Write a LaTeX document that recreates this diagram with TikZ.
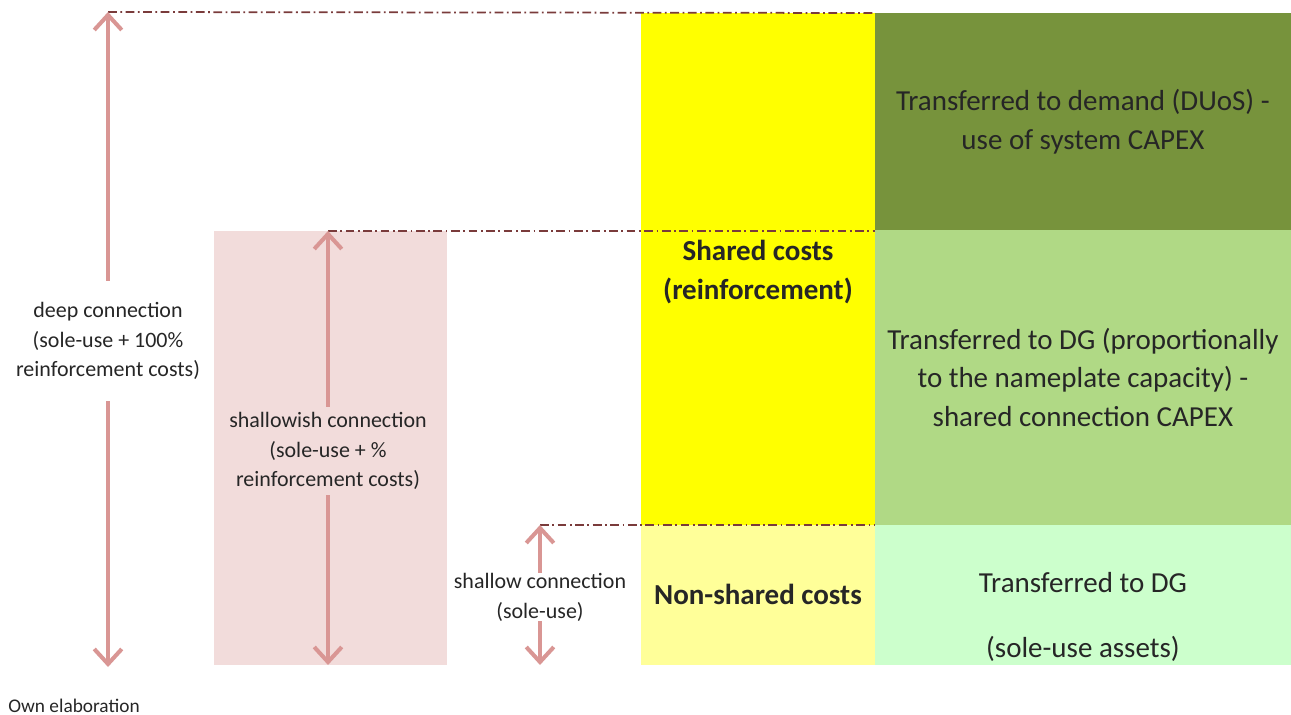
\documentclass[tikz,border=0pt]{standalone}
\usepackage{fontspec}
\setmainfont{Carlito}
\usetikzlibrary{positioning,arrows.meta}

\definecolor{arrowred}{HTML}{D99694}
\definecolor{levelred}{HTML}{7A3B3B}
\definecolor{pinkbg}{HTML}{F2DCDB}
\definecolor{sharedyellow}{HTML}{FFFF00}
\definecolor{paleyellow}{HTML}{FFFF99}
\definecolor{darkgreen}{HTML}{77933C}
\definecolor{midgreen}{HTML}{B0D985}
\definecolor{palegreen}{HTML}{CCFFCC}

\begin{document}
\begin{tikzpicture}[
        x=0.02cm, y=-0.02cm,
        cell/.style={inner sep=0pt, outer sep=0pt, anchor=north west, align=center},
        bodytxt/.style={font=\fontsize{16.5}{22}\selectfont, align=center, text=black!85},
        headtxt/.style={font=\fontsize{16.5}{22}\selectfont\bfseries, align=center, text=black!85},
        conntxt/.style={font=\fontsize{12.5}{17}\selectfont, align=center, inner xsep=0pt, text=black!85},
        reach/.style={draw=arrowred, line width=2.3pt, -{Straight Barb[length=3mm, width=5.5mm]}},
        tierline/.style={draw=levelred, line width=1pt, dash pattern=on 5pt off 2pt on 1pt off 2pt}
    ]

    \useasboundingbox (0,0) rectangle (1291,715);

    % cost columns
    \node[cell, fill=sharedyellow, minimum width=4.68cm, minimum height=10.24cm] (shared) at (641,13) {};
    \node[cell, headtxt, fill=paleyellow, minimum width=4.68cm, minimum height=2.8cm, below=0pt of shared] (nonshared) {Non-shared costs};
    \node[headtxt] (sharedtxt) at (758,272) {Shared costs\\(reinforcement)};

    \node[cell, bodytxt, fill=darkgreen, minimum width=8.32cm, minimum height=4.34cm] (demand) at (shared.north east) {Transferred to demand (DUoS) -\\use of system CAPEX};
    \node[cell, bodytxt, fill=midgreen, minimum width=8.32cm, minimum height=5.9cm, below=0pt of demand] (dgshared) {Transferred to DG (proportionally\\to the nameplate capacity) -\\shared connection CAPEX};
    \node[cell, fill=palegreen, minimum width=8.32cm, minimum height=2.8cm, below=0pt of dgshared] (dgsole) {};
    \node[bodytxt] (soletxt) at ([yshift=-0.45cm]dgsole.center) {Transferred to DG\\[15pt](sole-use assets)};

    % shallowish band
    \node[cell, fill=pinkbg, minimum width=4.66cm, minimum height=8.68cm] (wishband) at (214,231) {};

    % arrow ends
    \coordinate (deeptop) at (108,12);
    \coordinate (deepbot) at (108,667);
    \coordinate (wishtop) at (328,231);
    \coordinate (wishbot) at (328,665);
    \coordinate (shallowtop) at (540,525);
    \coordinate (shallowbot) at (540,665);

    % levels
    \draw[tierline] (deeptop) -- (shared.north east);
    \draw[tierline] (wishtop) -- (wishtop -| shared.east);
    \draw[tierline] (shallowtop) -- (shallowtop -| shared.east);

    % connection labels
    \node[conntxt, inner ysep=0.42cm] (deeplbl) at (108,341) {deep connection\\(sole-use + 100\%\\reinforcement costs)};
    \node[conntxt, inner ysep=0.1cm] (wishlbl) at (328,451) {shallowish connection\\(sole-use + \%\\reinforcement costs)};
    \node[conntxt, inner ysep=0pt] (shallowlbl) at (540,597) {shallow connection\\(sole-use)};

    \draw[reach] (deeplbl) -- (deeptop);
    \draw[reach] (deeplbl) -- (deepbot);
    \draw[reach] (wishlbl) -- (wishtop);
    \draw[reach] (wishlbl) -- (wishbot);
    \draw[reach] (shallowlbl) -- (shallowtop);
    \draw[reach] (shallowlbl) -- (shallowbot);

    \node[conntxt, anchor=west, font=\fontsize{11}{13}\selectfont] (source) at (8,706) {Own elaboration};

\end{tikzpicture}
\end{document}
